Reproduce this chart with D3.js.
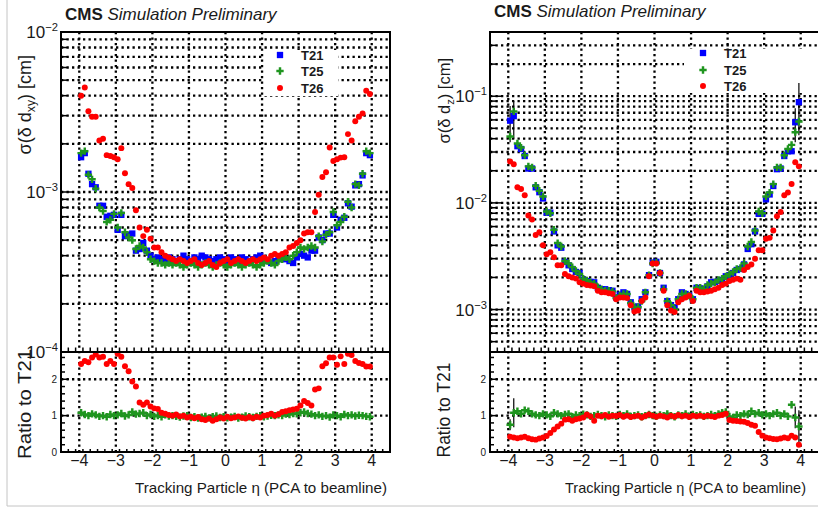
<!DOCTYPE html>
<html>
<head>
<meta charset="utf-8">
<script src="https://cdn.jsdelivr.net/npm/d3@7"></script>
<style>
body { margin: 0; background: #fff; }
svg { display: block; font-family: "Liberation Sans", Arial, Helvetica, sans-serif; }
</style>
</head>
<body>
<svg id="chart" width="818" height="509"></svg>
<script>
// bin centres in eta, 0.1 wide from -4 to 4
var etaBins = d3.range(80).map(function(i) { return +(-3.95 + 0.1 * i).toFixed(2); });
var xTicks = [-4, -3, -2, -1, 0, 1, 2, 3, 4];
var ratioTicks = [0, 1, 2];
var seriesNames = ['T21', 'T25', 'T26'];
var seriesColors = ['#0000ff', '#1f951f', '#ff0000'];

// sigma(delta dxy), in units of 1e-4 cm
var dxyT21 = [16.5, 17.5, 13.0, 11.2, 10.7, 8.2, 8.2, 7.0, 7.1, 7.2,
              5.8, 7.2, 5.3, 5.4, 5.5, 4.3, 4.4, 4.8, 4.3, 4.0,
              3.8, 3.9, 3.8, 3.7, 3.9, 3.8, 3.7, 3.8, 4.0, 3.8,
              3.7, 3.9, 3.8, 4.0, 3.9, 3.8, 3.7, 3.8, 3.9, 3.8,
              3.7, 3.9, 3.8, 3.7, 3.9, 3.8, 3.7, 3.8, 3.9, 4.0,
              3.8, 3.7, 3.6, 3.7, 3.8, 3.9, 3.8, 3.7, 3.6, 3.9,
              4.1, 4.0, 3.9, 4.3, 4.3, 5.2, 5.0, 5.5, 5.5, 7.2,
              6.0, 6.7, 6.9, 8.5, 8.1, 11.0, 11.2, 12.7, 17.5, 17.0];
var dxyT25 = [17.5, 18.0, 12.8, 12.0, 10.5, 8.0, 7.6, 6.5, 6.7, 7.3,
              6.0, 7.4, 5.6, 5.2, 5.0, 4.4, 4.6, 4.5, 4.2, 3.8,
              3.7, 3.6, 3.6, 3.5, 3.6, 3.5, 3.6, 3.5, 3.4, 3.5,
              3.6, 3.5, 3.4, 3.5, 3.6, 3.5, 3.4, 3.5, 3.6, 3.5,
              3.4, 3.5, 3.6, 3.5, 3.4, 3.5, 3.6, 3.5, 3.4, 3.5,
              3.6, 3.7, 3.6, 3.5, 3.7, 3.8, 3.9, 3.8, 4.0, 4.2,
              4.5, 4.4, 4.5, 4.6, 4.5, 5.3, 4.9, 5.4, 5.6, 7.5,
              6.2, 6.5, 7.0, 8.7, 8.0, 11.2, 11.0, 13.0, 18.0, 17.5];
var dxyT26 = [40, 45, 32, 29.5, 29.5, 21, 21.5, 17, 16.8, 16.5,
              16.0, 18.8, 13.1, 11.2, 10.6, 7.7, 6.0, 5.3, 5.8, 5.1,
              4.5, 4.5, 4.2, 4.0, 3.9, 3.8, 3.7, 3.8, 3.7, 3.6,
              3.7, 3.8, 3.6, 3.5, 3.6, 3.7, 3.5, 3.4, 3.6, 3.7,
              3.8, 3.6, 3.7, 3.8, 3.7, 3.6, 3.7, 3.8, 3.7, 3.8,
              3.9, 3.8, 4.0, 4.1, 4.0, 4.1, 4.2, 4.5, 4.6, 4.8,
              5.0, 5.5, 5.6, 5.6, 7.5, 9.6, 12.4, 13.3, 19.0, 15.6,
              16.0, 16.4, 16.5, 23, 21, 27.7, 29.5, 31, 43, 41];
var dxyR25 = [1.08, 1.03, 1.0, 1.05, 1.02, 0.98, 1.0, 0.97, 1.03, 1.0,
              1.02, 1.06, 0.99, 1.02, 1.1, 1.04, 1.06, 1.08, 1.0, 1.03,
              0.98, 1.0, 0.97, 1.02, 0.99, 1.0, 0.98, 0.96, 0.99, 1.0,
              0.95, 0.97, 0.93, 0.96, 0.98, 0.94, 0.97, 0.99, 0.95, 0.97,
              0.94, 0.96, 0.98, 0.93, 0.96, 0.99, 0.97, 0.95, 0.98, 1.0,
              0.97, 0.99, 1.01, 1.0, 1.02, 1.0, 1.04, 1.03, 1.06, 1.05,
              1.08, 1.1, 1.06, 1.04, 1.0, 1.02, 0.98, 1.0, 0.96, 1.02,
              1.0, 0.97, 1.03, 1.0, 1.02, 0.99, 1.01, 1.0, 0.98, 0.97];
var dxyR26 = [2.42, 2.5, 2.47, 2.6, 2.68, 2.6, 2.62, 2.42, 2.5, 2.42,
              2.7, 2.62, 2.36, 2.22, 1.94, 1.8, 1.36, 1.3, 1.36, 1.25,
              1.2, 1.18, 1.08, 1.05, 1.02, 1.0, 1.03, 0.98, 1.0, 0.95,
              0.97, 0.93, 0.96, 0.9, 0.88, 0.92, 0.86, 0.9, 0.95, 0.92,
              0.97, 0.93, 0.95, 0.98, 0.94, 0.92, 0.96, 0.93, 0.97, 0.95,
              1.0, 1.02, 1.05, 1.0, 1.04, 1.1, 1.12, 1.15, 1.17, 1.19,
              1.28, 1.4, 1.35, 1.28, 1.72, 1.75, 2.36, 2.44, 2.6, 2.6,
              2.4, 2.63, 2.42, 2.7, 2.67, 2.5, 2.45, 2.42, 2.35, 2.35];

// sigma(delta dz), in units of 1e-3 cm
var dzT21 = [59, 65, 34, 32, 27.5, 21, 21, 14, 12.6, 11,
             8.1, 8.1, 5.4, 4.0, 3.8, 2.8, 2.6, 2.4, 2.25, 2.2,
             1.9, 1.85, 1.82, 1.8, 1.6, 1.55, 1.55, 1.52, 1.5, 1.3,
             1.38, 1.45, 1.4, 1.17, 1.05, 1.07, 1.25, 1.45, 2.1, 2.75,
             2.8, 2.2, 1.6, 1.2, 1.1, 1.05, 1.25, 1.45, 1.4, 1.35,
             1.25, 1.6, 1.58, 1.55, 1.65, 1.8, 1.82, 1.85, 1.9, 2.05,
             2.1, 2.2, 2.35, 2.4, 2.65, 3.7, 4.1, 5.4, 7.9, 7.9,
             10.8, 12.0, 14.4, 20.7, 21, 27.5, 30.5, 30.5, 57, 88];
var dzT25 = [42, 72, 36, 33, 28, 22, 21.5, 14.5, 13, 11.5,
             8.3, 8.0, 5.6, 4.2, 3.9, 2.85, 2.7, 2.5, 2.3, 2.15,
             1.95, 1.88, 1.8, 1.75, 1.62, 1.55, 1.5, 1.5, 1.48, 1.28,
             1.35, 1.4, 1.4, 1.15, 1.05, 1.05, 1.2, 1.45, 2.1, 2.7,
             2.75, 2.2, 1.55, 1.2, 1.1, 1.0, 1.25, 1.4, 1.4, 1.35,
             1.25, 1.6, 1.6, 1.55, 1.7, 1.75, 1.8, 1.9, 1.95, 2.05,
             2.15, 2.25, 2.4, 2.45, 2.7, 3.9, 4.3, 5.5, 8.3, 8.0,
             11.5, 12.5, 15, 21.5, 21.5, 28, 32, 35, 46, 58];
var dzT26 = [24.5, 23, 14, 13.5, 11.8, 7.6, 7.0, 5.0, 5.3, 4.0,
             3.3, 3.45, 3.1, 2.6, 2.6, 2.15, 2.05, 2.0, 1.95, 1.8,
             1.75, 1.7, 1.68, 1.65, 1.5, 1.45, 1.45, 1.42, 1.4, 1.25,
             1.3, 1.3, 1.28, 1.1, 0.96, 0.98, 1.2, 1.3, 2.05, 2.7,
             2.7, 2.2, 1.5, 1.1, 0.98, 0.95, 1.17, 1.25, 1.3, 1.35,
             1.2, 1.5, 1.45, 1.45, 1.48, 1.5, 1.55, 1.6, 1.7, 1.75,
             1.85, 1.9, 1.95, 1.9, 2.35, 2.5, 2.65, 3.0, 3.6, 3.6,
             4.6, 4.7, 5.5, 7.5, 8.2, 11.8, 12.5, 15, 24, 22];
var dzR25 = [0.75, 1.08, 1.12, 1.05, 1.15, 1.12, 1.05, 1.02, 1.0, 1.05,
             1.02, 0.98, 1.08, 1.05, 1.0, 1.03, 1.05, 0.97, 1.02, 1.0,
             1.04, 1.02, 0.98, 1.0, 1.03, 1.0, 0.97, 1.02, 1.0, 0.98,
             1.03, 1.0, 1.05, 0.98, 1.0, 1.02, 0.97, 1.0, 1.03, 1.0,
             0.98, 1.02, 1.0, 1.05, 1.0, 0.97, 1.02, 1.0, 1.05, 0.98,
             1.03, 1.0, 1.02, 0.98, 1.0, 1.03, 1.0, 1.05, 1.08, 1.1,
             0.98, 0.95, 1.02, 1.0, 1.05, 1.03, 1.12, 1.05, 1.08, 1.02,
             1.05, 1.0, 1.05, 1.08, 1.0, 1.05, 0.98, 1.3, 0.95, 0.7];
var dzR26 = [0.42, 0.4, 0.38, 0.4, 0.42, 0.38, 0.35, 0.34, 0.37, 0.4,
             0.44, 0.52, 0.62, 0.7, 0.78, 0.89, 0.9, 0.86, 0.9, 0.92,
             0.95, 1.03, 0.98, 0.86, 1.0, 0.98, 1.02, 0.97, 1.0, 0.99,
             1.02, 0.97, 1.0, 0.96, 0.98, 1.0, 0.95, 0.99, 1.03, 1.0,
             0.97, 1.0, 0.98, 0.95, 1.0, 0.97, 1.02, 0.98, 1.0, 0.96,
             1.0, 0.98, 1.0, 0.97, 1.0, 0.98, 0.96, 1.0, 1.02, 1.05,
             0.88, 0.86, 0.85, 0.84, 0.83, 0.8, 0.75, 0.72, 0.55, 0.45,
             0.4, 0.38, 0.36, 0.35, 0.37, 0.4, 0.38, 0.45, 0.4, 0.2];
// large statistical errors in the last bins of the dz plot
var dzErrBins = [0, 1, 78, 79];
var dzT21Err = [22, 25, 20, 45];   // 1e-3 cm
var dzR25Err = [0.15, 0.4, 0.3, 0.45];

var svg = d3.select('#chart');
var padTop = 32, padMid = 352, padBot = 452;
var ratioMax = 2.75;
var ink = '#1a1a1a';

svg.append('line').attr('x1', 7).attr('x2', 7).attr('y1', 0).attr('y2', 506)
    .attr('stroke', '#c4c4c4');
svg.append('line').attr('x1', 7).attr('x2', 818).attr('y1', 506).attr('y2', 506)
    .attr('stroke', '#c4c4c4');

var symbols = [d3.symbol().type(d3.symbolSquare).size(40),
               d3.symbol().type(d3.symbolCross).size(30),
               d3.symbol().type(d3.symbolCircle).size(28)];

function dotted(sel) {
    return sel.attr('stroke', '#000').attr('stroke-width', 2.3).attr('stroke-dasharray', '2.3,3.2');
}

function drawPanel(p, k) {
    var g = svg.append('g');
    var x = d3.scaleLinear().domain([-4.5, 4.5]).range([p.left, p.right]);
    var y = d3.scaleLog().domain(p.yDomain).range([padMid, padTop]);
    var yr = d3.scaleLinear().domain([0, ratioMax]).range([padBot, padMid]);

    // log grid values: 1..9 x 10^e inside the domain
    var logVals = [];
    var e0 = Math.floor(Math.log10(p.yDomain[0])), e1 = Math.ceil(Math.log10(p.yDomain[1]));
    for (var e = e0; e <= e1; e++) {
        for (var m = 1; m <= 9; m++) {
            var v = +(m * Math.pow(10, e)).toPrecision(3);
            if (v >= p.yDomain[0] * 1.0001 && v <= p.yDomain[1] * 0.9999) logVals.push({v: v, major: m === 1});
        }
    }

    // grids
    g.selectAll('.hgrid').data(logVals).enter().append('line')
        .attr('x1', p.left).attr('x2', p.right)
        .attr('y1', function(d) { return y(d.v); }).attr('y2', function(d) { return y(d.v); })
        .call(dotted);
    g.selectAll('.rgrid').data([1, 2]).enter().append('line')
        .attr('x1', p.left).attr('x2', p.right)
        .attr('y1', function(d) { return yr(d); }).attr('y2', function(d) { return yr(d); })
        .call(dotted);
    g.selectAll('.vgrid').data(xTicks).enter().append('line')
        .attr('x1', function(d) { return x(d); }).attr('x2', function(d) { return x(d); })
        .attr('y1', padTop).attr('y2', padBot)
        .call(dotted);
    // legend box hides the grid behind it
    g.append('rect').attr('x', p.legendBox[0]).attr('y', p.legendBox[1])
        .attr('width', p.legendBox[2]).attr('height', p.legendBox[3]).attr('fill', '#fff');

    // clips
    var cu = 'clipU' + k, cr = 'clipR' + k;
    var defs = svg.append('defs');
    defs.append('clipPath').attr('id', cu).append('rect')
        .attr('x', p.left).attr('y', padTop).attr('width', p.right - p.left).attr('height', padMid - padTop);
    defs.append('clipPath').attr('id', cr).append('rect')
        .attr('x', p.left).attr('y', padMid).attr('width', p.right - p.left).attr('height', padBot - padMid);

    var upper = g.append('g').attr('clip-path', 'url(#' + cu + ')');
    var lower = g.append('g').attr('clip-path', 'url(#' + cr + ')');

    // error bars
    if (p.errBins) {
        p.errBins.forEach(function(b, j) {
            var v = p.series[0][b];
            upper.append('line').attr('x1', x(etaBins[b])).attr('x2', x(etaBins[b]))
                .attr('y1', y((v + p.err[j]) * p.unit)).attr('y2', y(Math.max(v - p.err[j], v * 0.3) * p.unit))
                .attr('stroke', '#000').attr('stroke-width', 1.2);
            lower.append('line').attr('x1', x(etaBins[b])).attr('x2', x(etaBins[b]))
                .attr('y1', yr(p.ratios[0][b] + p.ratioErr[j])).attr('y2', yr(p.ratios[0][b] - p.ratioErr[j]))
                .attr('stroke', '#000').attr('stroke-width', 1.2);
        });
    }

    p.series.forEach(function(arr, s) {
        upper.append('g').selectAll('path').data(arr).enter().append('path')
            .attr('d', symbols[s])
            .attr('fill', seriesColors[s])
            .attr('transform', function(d, i) { return 'translate(' + x(etaBins[i]) + ',' + y(d * p.unit) + ')'; });
    });
    p.ratios.forEach(function(arr, s) {
        lower.append('g').selectAll('path').data(arr).enter().append('path')
            .attr('d', symbols[s + 1])
            .attr('fill', seriesColors[s + 1])
            .attr('transform', function(d, i) { return 'translate(' + x(etaBins[i]) + ',' + yr(d) + ')'; });
    });

    // frames
    g.append('rect').attr('x', p.left).attr('y', padTop).attr('width', p.right - p.left)
        .attr('height', padMid - padTop).attr('fill', 'none').attr('stroke', '#000').attr('stroke-width', 2);
    g.append('rect').attr('x', p.left).attr('y', padMid).attr('width', p.right - p.left)
        .attr('height', padBot - padMid).attr('fill', 'none').attr('stroke', '#000').attr('stroke-width', 2);

    // ticks
    var ticks = g.append('g').attr('stroke', '#000').attr('stroke-width', 1.5);
    logVals.forEach(function(d) {
        ticks.append('line').attr('x1', p.left).attr('x2', p.left + (d.major ? 12 : 6))
            .attr('y1', y(d.v)).attr('y2', y(d.v));
    });
    d3.range(-45, 46, 2).forEach(function(t) {
        var xv = x(t / 10), major = t % 10 === 0;
        ticks.append('line').attr('x1', xv).attr('x2', xv)
            .attr('y1', padMid).attr('y2', padMid - (major ? 9 : 4.5));
        ticks.append('line').attr('x1', xv).attr('x2', xv)
            .attr('y1', padBot).attr('y2', padBot - (major ? 6 : 3));
    });
    d3.range(0, 14).forEach(function(t) {
        var v = t / 5, major = t % 5 === 0;
        if (v > ratioMax) return;
        ticks.append('line').attr('x1', p.left).attr('x2', p.left + (major ? 8 : 4))
            .attr('y1', yr(v)).attr('y2', yr(v));
    });

    // tick labels
    logVals.filter(function(d) { return d.major; }).concat([{v: p.yDomain[0]}, {v: p.yDomain[1]}])
        .filter(function(d) { return Math.abs(Math.log10(d.v) - Math.round(Math.log10(d.v))) < 1e-6; })
        .forEach(function(d) {
            var t = g.append('text').attr('x', p.left - 3).attr('y', y(d.v) + 6)
                .attr('text-anchor', 'end').attr('font-size', p.tickFont).attr('fill', ink);
            t.append('tspan').text('10');
            t.append('tspan').attr('dy', -7).attr('font-size', p.tickFont * 0.66)
                .text('\u2212' + Math.abs(Math.round(Math.log10(d.v))));
        });
    g.selectAll('.rlab').data(ratioTicks).enter().append('text')
        .attr('x', p.left - 4).attr('y', function(d) { return yr(d) + 3.5; })
        .attr('text-anchor', 'end').attr('font-size', 10).attr('fill', ink)
        .text(function(d) { return d; });
    g.selectAll('.xlab').data(xTicks).enter().append('text')
        .attr('x', function(d) { return x(d); }).attr('y', 466)
        .attr('text-anchor', 'middle').attr('font-size', 16).attr('fill', ink)
        .text(function(d) { return d < 0 ? '\u2212' + Math.abs(d) : d; });

    // titles
    g.append('text').attr('x', p.xTitleEnd).attr('y', 493).attr('text-anchor', 'end')
        .attr('font-size', 14.5).attr('fill', ink)
        .attr('textLength', p.xTitleLen).attr('lengthAdjust', 'spacingAndGlyphs')
        .text('Tracking Particle \u03b7 (PCA to beamline)');
    var yt = g.append('text').attr('transform', 'translate(' + p.yTitleX + ',' + p.yTitleEnd + ') rotate(-90)')
        .attr('text-anchor', 'end').attr('font-size', p.yTitleFont).attr('fill', ink);
    yt.append('tspan').text('\u03c3(\u03b4 d');
    yt.append('tspan').attr('dy', 4).attr('font-size', p.yTitleFont * 0.68).text(p.sub);
    yt.append('tspan').attr('dy', -4).text(') [cm]');
    g.append('text').attr('transform', 'translate(' + p.yTitleX + ',' + p.ratioTitleY + ') rotate(-90)')
        .attr('text-anchor', 'middle').attr('font-size', 18).attr('fill', ink)
        .attr('textLength', p.ratioLen).attr('lengthAdjust', 'spacingAndGlyphs')
        .text('Ratio to T21');

    var ct = g.append('text').attr('x', p.left + 4).attr('y', p.cmsY).attr('font-size', 17).attr('fill', ink);
    ct.append('tspan').attr('font-weight', 'bold').text('CMS');
    ct.append('tspan').attr('font-style', 'italic').text(' Simulation Preliminary');

    // legend
    seriesNames.forEach(function(name, s) {
        var ly = p.legendY[s];
        g.append('path').attr('d', symbols[s]).attr('fill', seriesColors[s])
            .attr('transform', 'translate(' + p.legendX + ',' + ly + ')');
        g.append('text').attr('x', p.legendX + 21).attr('y', ly + 4.5)
            .attr('font-size', 13).attr('font-weight', 'bold').attr('fill', ink).text(name);
    });
}

var panels = [
    {left: 61, right: 390, yDomain: [1e-4, 1e-2], unit: 1e-4,
     series: [dxyT21, dxyT25, dxyT26], ratios: [dxyR25, dxyR26], sub: 'xy',
     tickFont: 17, xTitleEnd: 387, xTitleLen: 252,
     yTitleX: 31, yTitleEnd: 55, yTitleFont: 18, ratioTitleY: 404, ratioLen: 110,
     cmsY: 20, legendX: 280, legendY: [55, 71, 88], legendBox: [264, 50, 74, 46]},
    {left: 490, right: 819, yDomain: [4e-4, 0.4], unit: 1e-3,
     series: [dzT21, dzT25, dzT26], ratios: [dzR25, dzR26], sub: 'z',
     errBins: dzErrBins, err: dzT21Err, ratioErr: dzR25Err,
     tickFont: 17, xTitleEnd: 806, xTitleLen: 241,
     yTitleX: 450, yTitleEnd: 58, yTitleFont: 16.5, ratioTitleY: 410, ratioLen: 95,
     cmsY: 17, legendX: 703, legendY: [53, 70, 86], legendBox: [684, 49, 135, 44]}
];
panels.forEach(drawPanel);
</script>
</body>
</html>
